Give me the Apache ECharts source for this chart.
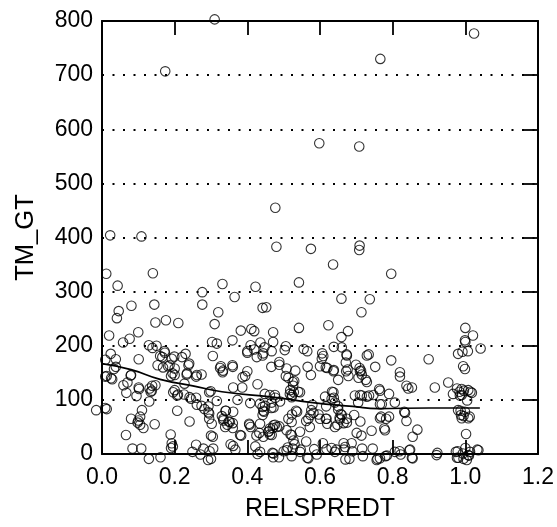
<!DOCTYPE html>
<html>
<head>
<meta charset="utf-8">
<script src="https://cdn.jsdelivr.net/npm/echarts@6/dist/echarts.min.js"></script>
<style>
html,body{margin:0;padding:0;background:#fff;}
#chart{width:557px;height:527px;}
</style>
</head>
<body>
<div id="chart"></div>
<script>
// Scatter points: RELSPREDT (x) and TM_GT (y)
var relSpreadT = [
0.31,1.024,0.174,0.766,0.598,0.708,0.477,0.0225,0.1086,0.480,0.575,0.709,0.708,0.636,0.0117,0.140,0.796,0.043,0.3315,0.4225,
0.542,0.276,0.365,0.659,0.737,0.081,0.144,0.276,0.32,0.442,0.452,0.714,0.046,0.041,0.0196,0.176,0.147,0.21,0.31,0.382,
0.411,0.419,0.471,0.542,0.623,0.677,1.0,1.021,0.0998,0.076,0.058,0.129,0.139,0.15,0.172,0.303,0.316,0.359,0.409,0.436,
0.447,0.471,0.506,0.503,0.555,0.565,0.638,0.659,0.66,0.673,0.734,1.0,0.992,1.007,0.98,1.042,0.899,0.796,0.024,0.009,
0.038,0.101,0.166,0.192,0.199,0.22,0.23,0.4,0.426,0.444,0.605,0.606,0.699,0.713,0.709,0.671,0.676,0.752,0.994,0.038,
0.033,0.009,0.025,0.08,0.153,0.168,0.186,0.2,0.194,0.2,0.19,0.24,0.261,0.274,0.234,0.327,0.333,0.359,0.387,0.4,
0.466,0.488,0.508,0.506,0.532,0.529,0.566,0.575,0.616,0.638,0.65,0.706,0.726,0.82,0.82,0.953,0.916,0.966,0.977,0.99,
1.008,1.014,0.99,1.005,0.059,0.07,0.101,0.067,0.095,0.131,0.138,0.147,0.134,0.2,0.209,0.226,0.241,0.227,0.299,0.361,
0.386,0.428,0.448,0.462,0.477,0.49,0.518,0.523,0.526,0.54,0.373,0.408,0.449,0.466,0.446,0.579,0.614,0.633,0.638,0.617,
0.65,0.696,0.71,0.735,0.763,0.79,0.77,0.806,0.853,0.838,0.832,0.838,0.868,0.855,0.0088,-0.016,0.11,0.08,0.105,0.105,
0.114,0.145,0.066,0.084,0.108,0.129,0.161,0.189,0.19,0.207,0.241,0.261,0.259,0.249,0.271,0.279,0.282,0.293,0.295,0.295,
0.3,0.3,0.306,0.33,0.341,0.349,0.345,0.36,0.361,0.354,0.367,0.383,0.406,0.422,0.428,0.425,0.433,0.442,0.459,0.462,
0.47,0.476,0.488,0.469,0.471,0.487,0.5,0.511,0.519,0.527,0.53,0.522,0.523,0.537,0.547,0.562,0.562,0.565,0.574,0.576,
0.584,0.596,0.608,0.616,0.632,0.641,0.648,0.645,0.654,0.66,0.665,0.666,0.665,0.67,0.681,0.687,0.689,0.694,0.701,0.711,
0.714,0.716,0.718,0.742,0.745,0.758,0.768,0.777,0.79,0.78,0.819,0.848,0.853,0.923,0.98,0.988,0.979,0.977,1.0,1.002,
1.012,1.033,0.995,1.01,
0.16,0.173,0.182,0.238,0.233,0.259,0.305,0.332,0.013,0.028,0.079,0.102,0.137,0.13,0.196,0.207,0.245,0.259,0.295,0.293,
0.274,0.316,0.34,0.334,0.302,0.305,0.013,0.1,0.098,0.192,0.195,0.296,0.292,
0.419,0.4,0.442,0.467,0.609,0.674,0.729,0.6,0.62,0.637,0.672,0.678,0.71,0.715,0.729,0.488,0.513,0.525,0.528,0.545,
0.522,0.394,0.36,0.325,0.476,0.467,0.435,0.444,0.442,0.472,0.517,0.637,0.632,0.641,0.65,0.657,0.655,0.674,0.715,0.705,
0.729,0.747,0.782,0.334,0.352,0.36,0.339,0.38,0.405,0.409,0.435,0.462,0.472,0.481,0.458,0.467,0.444,0.513,0.522,0.534,
0.508,0.522,0.545,0.568,0.582,0.572,0.6,0.618,0.62,0.674,0.361,0.435,0.472,0.508,0.525,0.545,0.568,0.591,0.618,0.641,
0.669,0.756,0.784,
0.999,0.999,0.843,0.984,0.996,1.018,0.985,0.765,0.765,0.987,0.999,0.99,1.008,0.995,0.765,0.834,0.779,0.765,0.806,0.822,
0.846,0.855,0.921,0.974,0.981,0.993,1.004,1.013,1.036,1.008
];
var tmGt = [
803,777,707,730,574,568,455,404,402,383,379,385,377,350,333,334,333,311,314,309,
317,299,290,287,286,274,276,276,262,270,271,262,264,251,219,247,243,242,240,228,
231,227,225,233,238,227,233,219,225,213,206,201,196,200,190,207,204,210,201,206,
197,207,199,192,194,190,198,216,197,184,184,207,189,190,185,195,175,173,185,174,
175,175,179,176,180,179,185,190,179,186,176,186,165,154,159,169,156,161,162,161,
157,143,140,146,164,160,164,158,149,146,144,167,146,147,149,162,154,164,142,153,
161,170,158,144,154,135,161,146,160,155,137,141,137,151,143,132,123,111,121,120,
118,115,109,99,127,132,123,113,107,121,126,127,115,118,110,110,105,130,116,123,
123,129,111,109,104,97,118,109,126,115,100,94,89,85,78,91,106,115,104,88,
88,108,109,108,120,111,92,95,123,126,78,61,45,32,85,81,81,65,69,54,
48,55,35,10,10,-9,-6,36,11,80,60,91,17,4,-1,10,83,88,75,65,
34,-9,10,70,80,60,54,57,78,18,8,34,54,14,0,34,39,87,42,36,
48,54,51,2,-6,-6,5,12,36,25,18,-4,73,78,8,61,23,-7,72,81,
9,73,20,65,11,50,54,8,67,72,20,8,57,-10,-9,20,5,72,39,60,
34,10,-4,43,10,-9,69,47,69,-4,5,8,-7,2,81,72,5,-7,11,37,
69,8,-9,-3,
181,187,162,164,147,143,181,151,144,138,145,120,117,97,114,108,102,104,114,77,
89,98,80,65,56,32,83,62,58,20,14,5,-11,
193,187,182,190,181,182,182,162,159,153,153,144,153,147,133,165,141,133,114,114,
105,144,161,159,109,95,93,80,72,86,111,114,102,95,82,74,64,58,108,95,
106,109,65,62,59,48,50,35,56,50,56,47,53,50,41,35,32,65,59,80,
44,35,41,65,76,50,65,65,56,65,15,4,1,7,10,4,-8,-1,9,4,
13,-11,-3,
210,157,121,115,117,113,108,117,92,80,78,66,66,70,66,76,44,-8,4,-1,
7,-8,-2,4,-7,1,-11,4,7,-2
];
// Fitted smooth curve
var fitX = [0, 0.08, 0.16, 0.25, 0.33, 0.47, 0.58, 0.69, 0.76, 0.9, 1.04];
var fitY = [167, 156, 138, 126, 115, 105, 95, 88, 84, 85, 85];

var points = relSpreadT.map(function (x, i) { return [x, tmGt[i]]; });
var fitLine = fitX.map(function (x, i) { return [x, fitY[i]]; });

var font = "'Liberation Sans', Arial, Helvetica, sans-serif";
var chart = echarts.init(document.getElementById('chart'), null, {renderer: 'canvas'});
var tickStyle = {show: true, inside: true, length: 14, lineStyle: {color: '#000', width: 1.8}};
var lineSt = {show: true, onZero: false, lineStyle: {color: '#000', width: 2}};
chart.setOption({
  animation: false,
  backgroundColor: '#fff',
  grid: {left: 102, right: 19, top: 21, bottom: 68, containLabel: false},
  xAxis: [{
    type: 'value', min: 0, max: 1.2, interval: 0.2, position: 'bottom',
    name: 'RELSPREDT', nameLocation: 'middle', nameGap: 43,
    nameTextStyle: {fontSize: 25, color: '#000', fontFamily: font},
    axisLine: lineSt, axisTick: tickStyle,
    axisLabel: {fontSize: 23, color: '#000', fontFamily: font, margin: 12,
      formatter: function (v) { return v.toFixed(1); }},
    splitLine: {show: false}
  }, {
    type: 'value', min: 0, max: 1.2, interval: 0.2, position: 'top',
    axisLine: lineSt, axisTick: tickStyle, axisLabel: {show: false}, splitLine: {show: false}
  }],
  yAxis: [{
    type: 'value', min: 0, max: 800, interval: 100, position: 'left',
    name: 'TM_GT', nameLocation: 'middle', nameGap: 63,
    nameTextStyle: {fontSize: 25.5, color: '#000', fontFamily: font},
    axisLine: lineSt, axisTick: {show: false},
    axisLabel: {fontSize: 23, color: '#000', fontFamily: font, margin: 9},
    splitLine: {show: true, lineStyle: {color: '#000', width: 2, type: [2, 8.5]}}
  }, {
    type: 'value', min: 0, max: 800, interval: 100, position: 'right',
    axisLine: lineSt, axisTick: tickStyle, axisLabel: {show: false}, splitLine: {show: false}
  }],
  series: [{
    type: 'scatter', xAxisIndex: 0, yAxisIndex: 0, clip: false,
    symbol: 'circle', symbolSize: 9.5,
    itemStyle: {color: 'rgba(0,0,0,0)', borderColor: '#000', borderWidth: 1.1},
    data: points, z: 3
  }, {
    type: 'line', xAxisIndex: 0, yAxisIndex: 0, smooth: true, symbol: 'none',
    lineStyle: {color: '#000', width: 1.7},
    data: fitLine, z: 4
  }]
});
</script>
</body>
</html>
